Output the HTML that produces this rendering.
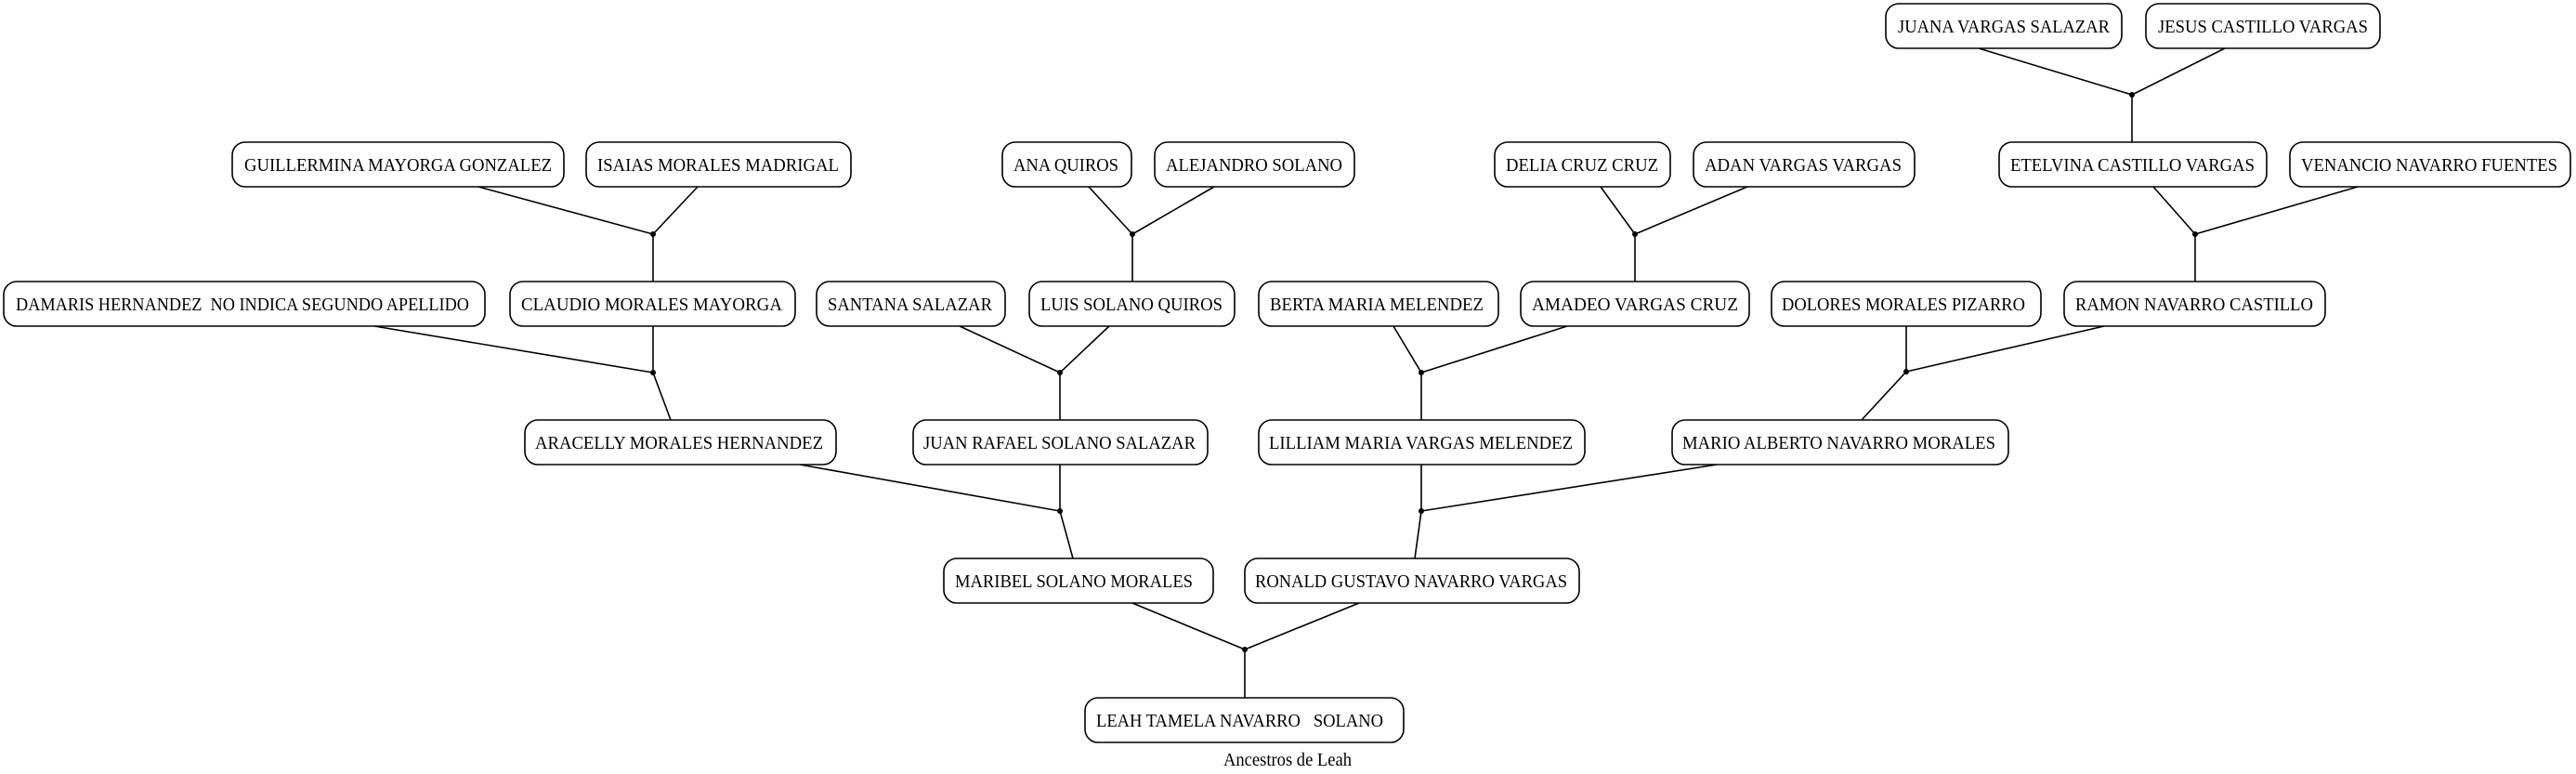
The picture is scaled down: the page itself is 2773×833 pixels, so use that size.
<!DOCTYPE html>
<html><head><meta charset="utf-8"><style>
html,body{margin:0;padding:0;background:#fff;}
svg{display:block;}
text{font-family:"Liberation Serif",serif;font-size:20px;fill:#000;white-space:pre;}
rect{fill:#fff;stroke:#000;stroke-width:1.6;}
line{stroke:#000;stroke-width:1.6;}
circle{fill:#000;}
</style></head><body>
<svg width="2773" height="833" viewBox="0 0 2773 833" xmlns="http://www.w3.org/2000/svg" xml:space="preserve">
<g>
<line x1="2130" y1="52" x2="2295" y2="102"/><line x1="2395" y1="52" x2="2295" y2="102"/><line x1="2295" y1="102" x2="2295" y2="153"/><circle cx="2295" cy="102" r="3"/>
<line x1="515" y1="201" x2="703" y2="252"/><line x1="751" y1="201" x2="703" y2="252"/><line x1="703" y1="252" x2="703" y2="303"/><circle cx="703" cy="252" r="3"/>
<line x1="1172" y1="201" x2="1219" y2="252"/><line x1="1307" y1="201" x2="1219" y2="252"/><line x1="1219" y1="252" x2="1219" y2="303"/><circle cx="1219" cy="252" r="3"/>
<line x1="1723" y1="201" x2="1760" y2="252"/><line x1="1881" y1="201" x2="1760" y2="252"/><line x1="1760" y1="252" x2="1760" y2="303"/><circle cx="1760" cy="252" r="3"/>
<line x1="2318" y1="201" x2="2363" y2="252"/><line x1="2538" y1="201" x2="2363" y2="252"/><line x1="2363" y1="252" x2="2363" y2="303"/><circle cx="2363" cy="252" r="3"/>
<line x1="403" y1="351" x2="703" y2="401"/><line x1="703" y1="351" x2="703" y2="401"/><line x1="703" y1="401" x2="722" y2="452"/><circle cx="703" cy="401" r="3"/>
<line x1="1033" y1="351" x2="1141" y2="401"/><line x1="1194" y1="351" x2="1141" y2="401"/><line x1="1141" y1="401" x2="1141" y2="452"/><circle cx="1141" cy="401" r="3"/>
<line x1="1500" y1="351" x2="1530" y2="401"/><line x1="1687" y1="351" x2="1530" y2="401"/><line x1="1530" y1="401" x2="1530" y2="452"/><circle cx="1530" cy="401" r="3"/>
<line x1="2052" y1="351" x2="2052" y2="400"/><line x1="2265" y1="351" x2="2052" y2="400"/><line x1="2052" y1="400" x2="2004" y2="452"/><circle cx="2052" cy="400" r="3"/>
<line x1="861" y1="500" x2="1141" y2="550"/><line x1="1141" y1="500" x2="1141" y2="550"/><line x1="1141" y1="550" x2="1155" y2="601"/><circle cx="1141" cy="550" r="3"/>
<line x1="1530" y1="500" x2="1530" y2="550"/><line x1="1848" y1="500" x2="1530" y2="550"/><line x1="1530" y1="550" x2="1523" y2="601"/><circle cx="1530" cy="550" r="3"/>
<line x1="1219" y1="649" x2="1340" y2="699"/><line x1="1463" y1="649" x2="1340" y2="699"/><line x1="1340" y1="699" x2="1340" y2="751"/><circle cx="1340" cy="699" r="3"/>
</g>
<g>
<rect x="2030" y="4" width="254" height="48" rx="14"/><text x="2043" y="35" textLength="228" lengthAdjust="spacingAndGlyphs">JUANA VARGAS SALAZAR</text>
<rect x="2310" y="4" width="252" height="48" rx="14"/><text x="2323" y="35" textLength="226" lengthAdjust="spacingAndGlyphs">JESUS CASTILLO VARGAS</text>
<rect x="250" y="153" width="357" height="48" rx="14"/><text x="263" y="184" textLength="331" lengthAdjust="spacingAndGlyphs">GUILLERMINA MAYORGA GONZALEZ</text>
<rect x="631" y="153" width="285" height="48" rx="14"/><text x="643" y="184" textLength="260" lengthAdjust="spacingAndGlyphs">ISAIAS MORALES MADRIGAL</text>
<rect x="1079" y="153" width="139" height="48" rx="14"/><text x="1091" y="184" textLength="113" lengthAdjust="spacingAndGlyphs">ANA QUIROS</text>
<rect x="1243" y="153" width="215" height="48" rx="14"/><text x="1255" y="184" textLength="190" lengthAdjust="spacingAndGlyphs">ALEJANDRO SOLANO</text>
<rect x="1609" y="153" width="189" height="48" rx="14"/><text x="1621" y="184" textLength="164" lengthAdjust="spacingAndGlyphs">DELIA CRUZ CRUZ</text>
<rect x="1823" y="153" width="238" height="48" rx="14"/><text x="1835" y="184" textLength="212" lengthAdjust="spacingAndGlyphs">ADAN VARGAS VARGAS</text>
<rect x="2152" y="153" width="288" height="48" rx="14"/><text x="2164" y="184" textLength="263" lengthAdjust="spacingAndGlyphs">ETELVINA CASTILLO VARGAS</text>
<rect x="2465" y="153" width="302" height="48" rx="14"/><text x="2477" y="184" textLength="276" lengthAdjust="spacingAndGlyphs">VENANCIO NAVARRO FUENTES</text>
<rect x="4" y="303" width="518" height="48" rx="14"/><text x="17" y="334" textLength="488" lengthAdjust="spacingAndGlyphs">DAMARIS HERNANDEZ  NO INDICA SEGUNDO APELLIDO</text>
<rect x="549" y="303" width="307" height="48" rx="14"/><text x="561" y="334" textLength="281" lengthAdjust="spacingAndGlyphs">CLAUDIO MORALES MAYORGA</text>
<rect x="879" y="303" width="203" height="48" rx="14"/><text x="891" y="334" textLength="177" lengthAdjust="spacingAndGlyphs">SANTANA SALAZAR</text>
<rect x="1108" y="303" width="221" height="48" rx="14"/><text x="1120" y="334" textLength="196" lengthAdjust="spacingAndGlyphs">LUIS SOLANO QUIROS</text>
<rect x="1355" y="303" width="258" height="48" rx="14"/><text x="1367" y="334" textLength="230" lengthAdjust="spacingAndGlyphs">BERTA MARIA MELENDEZ</text>
<rect x="1637" y="303" width="246" height="48" rx="14"/><text x="1649" y="334" textLength="222" lengthAdjust="spacingAndGlyphs">AMADEO VARGAS CRUZ</text>
<rect x="1907" y="303" width="290" height="48" rx="14"/><text x="1918" y="334" textLength="262" lengthAdjust="spacingAndGlyphs">DOLORES MORALES PIZARRO</text>
<rect x="2222" y="303" width="281" height="48" rx="14"/><text x="2234" y="334" textLength="256" lengthAdjust="spacingAndGlyphs">RAMON NAVARRO CASTILLO</text>
<rect x="565" y="452" width="335" height="48" rx="14"/><text x="576" y="483" textLength="310" lengthAdjust="spacingAndGlyphs">ARACELLY MORALES HERNANDEZ</text>
<rect x="983" y="452" width="317" height="48" rx="14"/><text x="994" y="483" textLength="293" lengthAdjust="spacingAndGlyphs">JUAN RAFAEL SOLANO SALAZAR</text>
<rect x="1355" y="452" width="351" height="48" rx="14"/><text x="1366" y="483" textLength="327" lengthAdjust="spacingAndGlyphs">LILLIAM MARIA VARGAS MELENDEZ</text>
<rect x="1800" y="452" width="362" height="48" rx="14"/><text x="1811" y="483" textLength="337" lengthAdjust="spacingAndGlyphs">MARIO ALBERTO NAVARRO MORALES</text>
<rect x="1016" y="601" width="290" height="48" rx="14"/><text x="1028" y="632" textLength="256" lengthAdjust="spacingAndGlyphs">MARIBEL SOLANO MORALES</text>
<rect x="1340" y="601" width="360" height="48" rx="14"/><text x="1351" y="632" textLength="336" lengthAdjust="spacingAndGlyphs">RONALD GUSTAVO NAVARRO VARGAS</text>
<rect x="1168" y="751" width="343" height="48" rx="14"/><text x="1180" y="782" textLength="309" lengthAdjust="spacingAndGlyphs">LEAH TAMELA NAVARRO   SOLANO</text>
</g>
<text x="1386" y="824" text-anchor="middle" textLength="138" lengthAdjust="spacingAndGlyphs">Ancestros de Leah</text>
</svg>
</body></html>
